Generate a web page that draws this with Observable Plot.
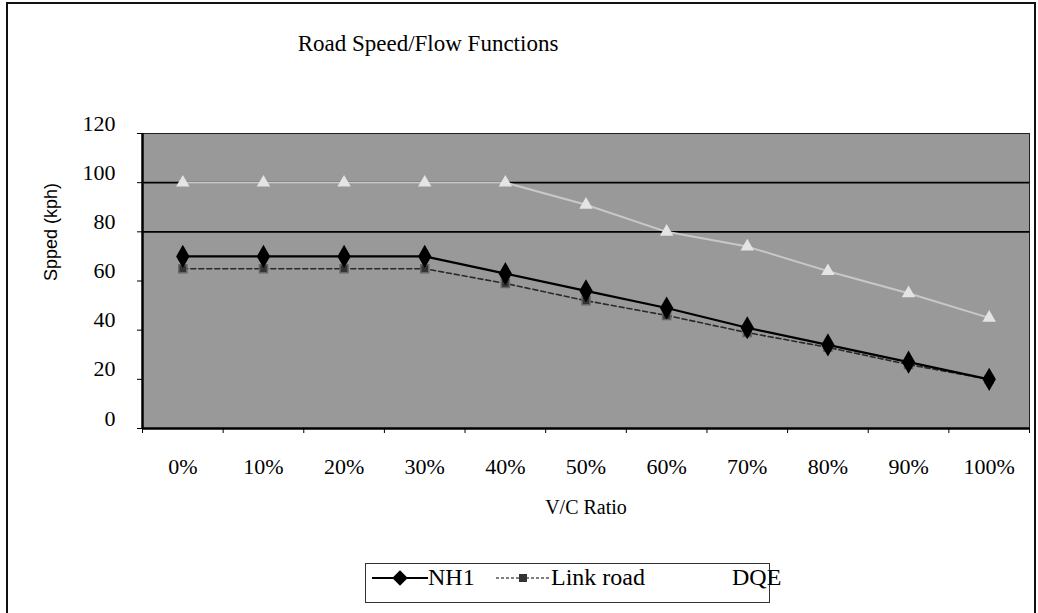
<!DOCTYPE html>
<html>
<head>
<meta charset="utf-8">
<script src="https://cdn.jsdelivr.net/npm/d3@7"></script>
<script src="https://cdn.jsdelivr.net/npm/@observablehq/plot@0.6"></script>
<style>
  body { margin: 0; background: #fff; }
  #wrap { position: relative; width: 1038px; height: 613px; overflow: hidden;
          font-family: "Liberation Serif", "Times New Roman", serif; color: #000; }
  #border { position: absolute; left: 6px; top: 2px; width: 1030px; height: 700px;
            border: 2px solid #111; box-sizing: border-box; }
  #title { position: absolute; left: 0; width: 856px; top: 30px; text-align: center;
           font-size: 23px; line-height: 28px; }
  #chart { position: absolute; left: 0; top: 100px; }
  #legendBox { position: absolute; left: 365px; top: 563px; width: 405px; height: 40px;
               border: 1px solid #333; box-sizing: border-box; }
  .lg { position: absolute; font-family: "Liberation Serif", serif; font-size: 24px; line-height: 24px; top: 565px; }
  .sw { position: absolute; top: 570px; }
</style>
</head>
<body>
<div id="wrap">
  <div id="border"></div>
  <div id="title">Road Speed/Flow Functions</div>
  <div id="chart"></div>
  <div id="legendBox"></div>
  <svg class="sw" style="left:372px" width="56" height="16" id="swNH1"></svg>
  <div class="lg" style="left:428px">NH1</div>
  <svg class="sw" style="left:496px" width="54" height="16" id="swLink"></svg>
  <div class="lg" style="left:551px">Link road</div>
  <svg class="sw" style="left:672px" width="56" height="16" id="swDQE"></svg>
  <div class="lg" style="left:732px">DQE</div>
</div>
<script>
// ---- data ----
const categories = ["0%", "10%", "20%", "30%", "40%", "50%", "60%", "70%", "80%", "90%", "100%"];
const nh1      = [70, 70, 70, 70, 63, 56, 49, 41, 34, 27, 20];
const linkRoad = [65, 65, 65, 65, 59, 52, 46, 39, 33, 26, 20];
const dqe      = [100, 100, 100, 100, 100, 91, 80, 74, 64, 55, 45];
const yTicks = [0, 20, 40, 60, 80, 100, 120];
const gridValues = [80, 100];
const yLabel = "Spped (kph)";
const xLabel = "V/C Ratio";

const serif = "Liberation Serif";
const toRows = vals => vals.map((v, i) => ({i, v}));
const nh1Rows = toRows(nh1), linkRows = toRows(linkRoad), dqeRows = toRows(dqe);
const idx = d3.range(categories.length);
const bounds = d3.range(categories.length + 1).map(i => i - 0.5);

const chart = Plot.plot({
  width: 1038,
  height: 428,
  marginTop: 33,
  marginBottom: 100,
  marginLeft: 142,
  marginRight: 9,
  x: {type: "linear", domain: [-0.5, categories.length - 0.5]},
  y: {domain: [0, 120]},
  style: {fontFamily: serif, fontSize: "22px", color: "#000", background: "transparent", overflow: "visible"},
  marks: [
    Plot.frame({fill: "#999999", stroke: "none"}),
    Plot.ruleY(gridValues, {stroke: "#000", strokeWidth: 1.6}),
    Plot.line(dqeRows, {x: "i", y: "v", stroke: "#c8c8c8", strokeWidth: 2}),
    Plot.dot(dqeRows, {x: "i", y: "v", symbol: "triangle", fill: "#e4e4e4", r: 5}),
    Plot.line(linkRows, {x: "i", y: "v", stroke: "#2a2a2a", strokeWidth: 1.6, strokeDasharray: "5,3"}),
    Plot.dot(linkRows, {x: "i", y: "v", symbol: "square", fill: "#333", stroke: "#666", r: 4.5}),
    Plot.line(nh1Rows, {x: "i", y: "v", stroke: "#000", strokeWidth: 2.2}),
    Plot.dot(nh1Rows, {x: "i", y: "v", symbol: "diamond", fill: "#000", r: 7}),
    Plot.frame({stroke: "#222", strokeWidth: 1}),
    Plot.ruleY([0], {stroke: "#000", strokeWidth: 2.5}),
    Plot.ruleX([-0.5], {stroke: "#000", strokeWidth: 2.5}),
    Plot.axisY({ticks: yTicks, tickSize: 5, tickFormat: () => "", label: null}),
    Plot.axisY({ticks: yTicks, tickSize: 0, tickPadding: 27, dy: -10, label: null, fontFamily: serif, fontSize: 22}),
    Plot.axisX({ticks: bounds, tickSize: 5, tickFormat: () => "", label: null}),
    Plot.axisX({ticks: idx, tickSize: 0, tickPadding: 30, tickFormat: i => categories[i], label: null, fontFamily: serif, fontSize: 22}),
    Plot.text([yLabel], {frameAnchor: "left", dx: -91, rotate: -90, fontFamily: "Liberation Sans", fontSize: 18}),
    Plot.text([xLabel], {frameAnchor: "bottom", dy: 85, fontFamily: serif, fontSize: 20})
  ]
});
document.getElementById("chart").appendChild(chart);

// ---- legend swatches ----
function swatch(id, stroke, dash, symbol, fill, r, width) {
  const svg = d3.select("#" + id);
  const w = +svg.attr("width");
  svg.append("line").attr("x1", 0).attr("x2", w).attr("y1", 8).attr("y2", 8)
    .attr("stroke", stroke).attr("stroke-width", width).attr("stroke-dasharray", dash);
  svg.append("path").attr("d", d3.symbol(symbol, Math.PI * r * r)())
    .attr("transform", `translate(${w / 2},8)`).attr("fill", fill);
}
swatch("swNH1", "#000", null, d3.symbolDiamond2 || d3.symbolDiamond, "#000", 7, 2);
swatch("swLink", "#555", "3,2", d3.symbolSquare, "#333", 4.5, 1.5);
swatch("swDQE", "#fff", null, d3.symbolTriangle, "#fff", 6, 2);
</script>
</body>
</html>
